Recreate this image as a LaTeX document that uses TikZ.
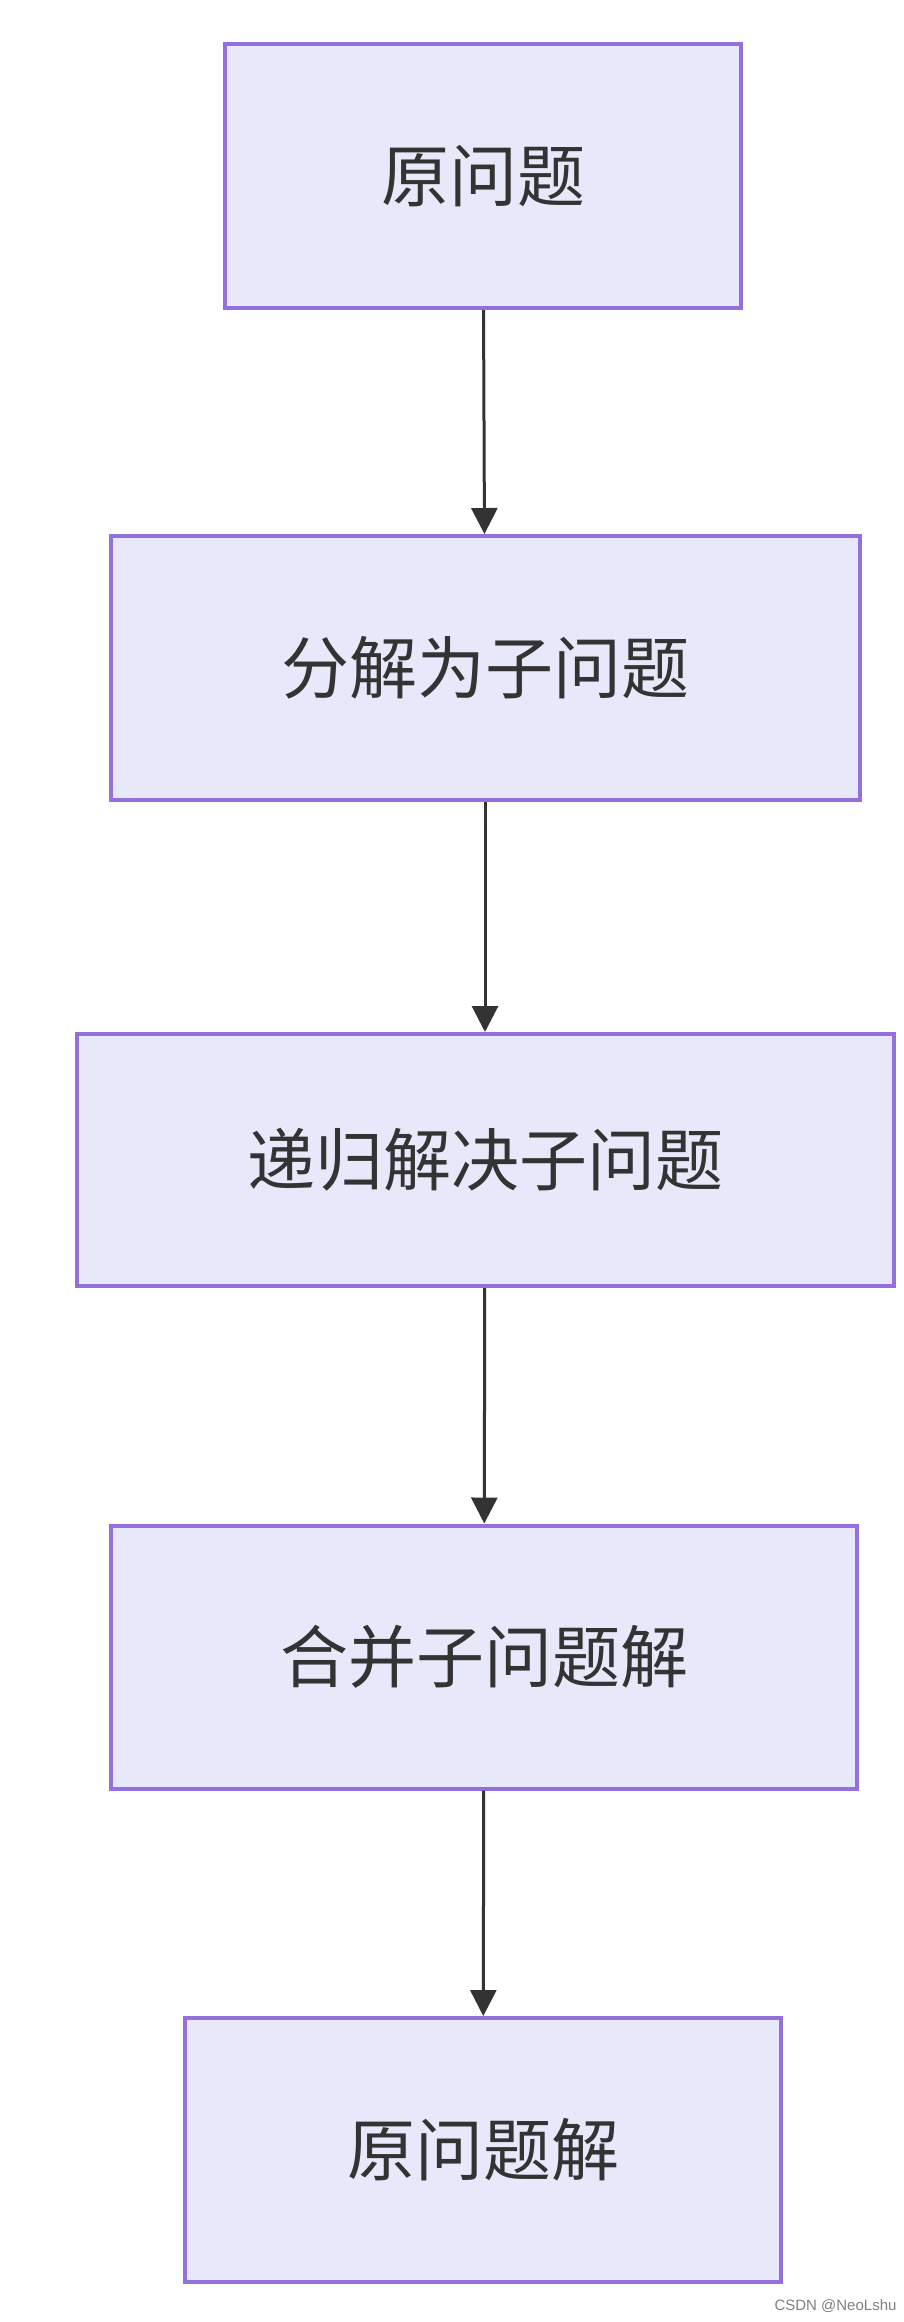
\documentclass[tikz,border=0pt]{standalone}
\usepackage{fontspec}
\newfontfamily\cjk{Noto Sans CJK SC}
\usetikzlibrary{arrows.meta}
\definecolor{boxfill}{HTML}{E8E8FB}
\definecolor{boxline}{HTML}{9370DB}
\definecolor{arr}{HTML}{333333}
\tikzset{
  box/.style={draw=boxline, line width=4pt, fill=boxfill, inner sep=0pt, font=\cjk\fontsize{68}{80}\selectfont, text=arr},
  conn/.style={draw=arr, line width=3pt, -{Triangle[length=26pt,width=26pt]}}
}
\begin{document}
\begin{tikzpicture}[x=1pt,y=-1pt]
\useasboundingbox (0,0) rectangle (904,2322);
\node[box, minimum width=516pt, minimum height=264pt] (a) at (483,176) {原问题};
\node[box, minimum width=749pt, minimum height=264pt] (b) at (485,668) {分解为子问题};
\node[box, minimum width=817pt, minimum height=252pt] (c) at (485,1160) {递归解决子问题};
\node[box, minimum width=746pt, minimum height=263pt] (d) at (484,1657) {合并子问题解};
\node[box, minimum width=596pt, minimum height=264pt] (e) at (483,2150) {原问题解};
\draw[conn] (a) -- (b);
\draw[conn] (b) -- (c);
\draw[conn] (c) -- (d);
\draw[conn] (d) -- (e);
\node[font=\fontspec{Liberation Sans}\fontsize{15}{18}\selectfont, text=gray, anchor=east] (w) at (900,2306) {CSDN @NeoLshu};
\end{tikzpicture}
\end{document}
